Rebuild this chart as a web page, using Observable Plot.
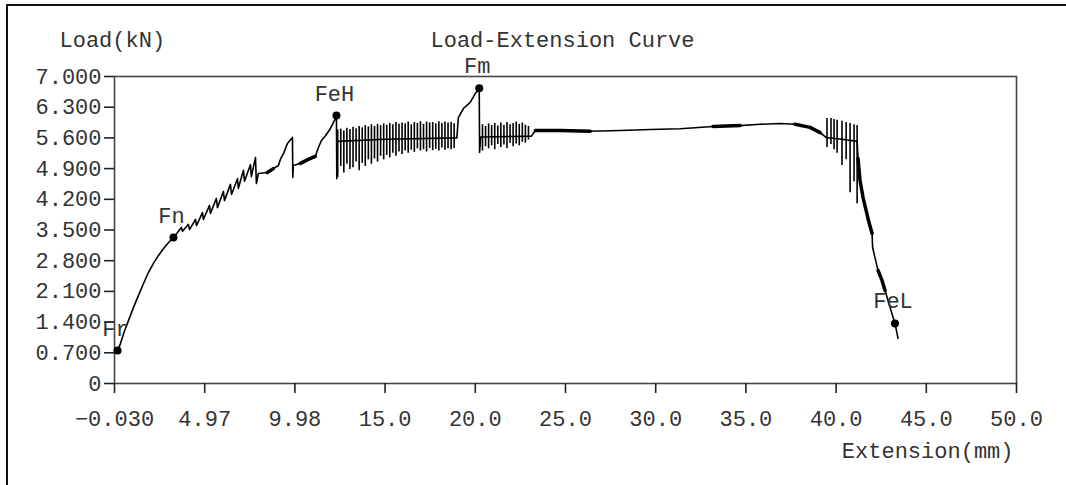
<!DOCTYPE html>
<html>
<head>
<meta charset="utf-8">
<script src="https://cdn.jsdelivr.net/npm/d3@7"></script>
<script src="https://cdn.jsdelivr.net/npm/@observablehq/plot@0.6"></script>
<style>
  html, body { margin: 0; padding: 0; background: #fff; }
  #wrap { position: relative; width: 1066px; height: 485px; overflow: hidden; }
  #outer { position: absolute; left: 6px; top: 4px; right: -10px; bottom: -10px;
           border-top: 2px solid #111; border-left: 2px solid #111; pointer-events: none; }
</style>
</head>
<body>
<div id="wrap"><div id="outer"></div></div>
<script>
// ---- Data ----
const xTickValues = [-0.03, 4.973, 9.976, 14.979, 19.982, 24.985, 29.988, 34.991, 39.994, 44.997, 50.0];
const xTickLabels = ["−0.030", "4.97", "9.98", "15.0", "20.0", "25.0", "30.0", "35.0", "40.0", "45.0", "50.0"];
const yTickValues = [0, 0.7, 1.4, 2.1, 2.8, 3.5, 4.2, 4.9, 5.6, 6.3, 7.0];
const yTickLabels = ["0", "0.700", "1.400", "2.100", "2.800", "3.500", "4.200", "4.900", "5.600", "6.300", "7.000"];

// main load-extension trace (mm, kN)
const extension = [
  0.02, 0.14, 0.30, 0.52, 0.75, 1.02, 1.30, 1.58, 1.85, 2.13, 2.41, 2.69, 2.96, 3.24,
  3.52, 3.68, 3.74, 4.07, 4.13, 4.46, 4.52, 4.85, 4.90, 5.24, 5.29, 5.62, 5.68, 6.01, 6.07,
  6.40, 6.46, 6.79, 6.84, 7.12, 7.18, 7.51, 7.56, 7.79, 7.84, 7.95, 8.45, 8.78, 9.06, 9.17,
  9.34, 9.56, 9.84, 9.86, 9.89, 10.28, 10.72, 11.11, 11.28, 11.45, 11.67, 11.94, 12.22, 12.28,
  12.30, 12.33, 15.00, 18.96, 19.04, 19.32, 19.70, 19.98, 20.15, 20.20, 20.22, 20.28, 23.10,
  23.31, 24.69, 26.36, 28.02, 29.68, 31.35, 33.17, 34.67, 35.78, 36.89, 37.72, 38.55, 39.11,
  39.44, 40.30, 41.16, 41.21, 41.32, 41.49, 41.66, 41.82, 41.99, 42.02, 42.15, 42.32, 42.54,
  42.71, 42.99, 43.26, 43.43
];
const load = [
  0.70, 0.75, 0.91, 1.19, 1.44, 1.73, 2.01, 2.28, 2.53, 2.74, 2.92, 3.08, 3.21, 3.33,
  3.47, 3.56, 3.47, 3.63, 3.51, 3.74, 3.60, 3.90, 3.74, 4.06, 3.88, 4.22, 4.01, 4.38, 4.17,
  4.54, 4.31, 4.67, 4.45, 4.86, 4.61, 4.99, 4.72, 5.15, 4.56, 4.79, 4.81, 4.90, 4.97, 5.11,
  5.24, 5.47, 5.61, 4.70, 4.97, 5.02, 5.11, 5.18, 5.38, 5.54, 5.65, 5.81, 6.04, 6.11,
  4.67, 5.52, 5.57, 5.60, 6.06, 6.27, 6.41, 6.61, 6.70, 6.73, 5.27, 5.62, 5.64,
  5.77, 5.77, 5.75, 5.77, 5.79, 5.81, 5.86, 5.88, 5.91, 5.93, 5.91, 5.84, 5.72,
  5.61, 5.57, 5.52, 5.13, 4.63, 4.24, 3.94, 3.67, 3.42, 3.10, 2.87, 2.58, 2.35,
  2.12, 1.73, 1.37, 1.03
];

// extension ranges where the trace is drawn heavier (dense oscillation)
const heavyFrom = [8.30, 10.25, 23.25, 33.00, 37.50, 41.20, 42.30];
const heavyTo   = [8.90, 11.15, 26.40, 34.80, 39.20, 42.00, 42.75];

// oscillation spikes (vertical excursions)
const spikeX = [
  12.35, 12.52, 12.69, 12.86, 13.03, 13.20, 13.37, 13.54, 13.71, 13.88, 14.05, 14.22, 14.39,
  14.56, 14.73, 14.90, 15.07, 15.24, 15.41, 15.58, 15.75, 15.92, 16.09, 16.26, 16.43, 16.60,
  16.77, 16.94, 17.11, 17.28, 17.45, 17.62, 17.79, 17.96, 18.13, 18.30, 18.47, 18.64, 18.81,
  20.38, 20.55, 20.72, 20.89, 21.06, 21.23, 21.40, 21.57, 21.74, 21.91, 22.08, 22.25, 22.42,
  22.59, 22.76, 22.93,
  39.49, 39.71, 39.88, 40.05, 40.32, 40.55, 40.77, 40.99, 41.16
];
const spikeHigh = [
  5.78, 5.80, 5.76, 5.82, 5.79, 5.84, 5.81, 5.86, 5.83, 5.88, 5.85, 5.90, 5.86,
  5.91, 5.88, 5.92, 5.89, 5.93, 5.90, 5.95, 5.91, 5.94, 5.92, 5.96, 5.90, 5.95,
  5.93, 5.97, 5.91, 5.96, 5.94, 5.95, 5.92, 5.97, 5.93, 5.96, 5.94, 5.95, 5.92,
  5.90, 5.86, 5.92, 5.88, 5.93, 5.87, 5.94, 5.89, 5.95, 5.90, 5.93, 5.96, 5.91,
  5.94, 5.89, 5.86,
  6.04, 6.04, 6.02, 6.00, 5.98, 5.95, 5.93, 5.90, 5.88
];
const spikeLow = [
  4.70, 4.95, 4.80, 5.00, 4.88, 4.92, 5.05, 4.85, 5.02, 4.95, 5.10, 5.00, 5.12,
  5.05, 5.18, 5.10, 5.20, 5.15, 5.25, 5.18, 5.28, 5.22, 5.30, 5.25, 5.32, 5.27,
  5.35, 5.30, 5.33, 5.28, 5.36, 5.31, 5.34, 5.30, 5.37, 5.32, 5.35, 5.33, 5.36,
  5.30, 5.40, 5.35, 5.42, 5.33, 5.45, 5.38, 5.44, 5.36, 5.47, 5.40, 5.46, 5.42,
  5.50, 5.48, 5.55,
  5.38, 5.45, 5.33, 5.25, 4.97, 5.10, 4.35, 4.60, 4.10
];

// characteristic points
const markName = ["Fr", "Fn", "FeH", "Fm", "FeL"];
const markX = [0.14, 3.24, 12.28, 20.20, 43.26];
const markY = [0.75, 3.33, 6.11, 6.73, 1.37];

// ---- Build tables ----
const curve = extension.map((x, i) => ({x, y: load[i]}));
const heavy = [];
heavyFrom.forEach((lo, k) => {
  curve.filter(d => d.x >= lo && d.x <= heavyTo[k]).forEach(d => heavy.push({...d, seg: k}));
});
const spikes = spikeX.map((x, i) => ({x, y1: spikeLow[i], y2: spikeHigh[i]}));
const marks = markName.map((name, i) => ({name, x: markX[i], y: markY[i]}));
const xLab = new Map(xTickValues.map((v, i) => [v, xTickLabels[i]]));
const yLab = new Map(yTickValues.map((v, i) => [v, yTickLabels[i]]));

const font = "Liberation Mono, DejaVu Sans Mono, monospace";
const ink = "#333";

const chart = Plot.plot({
  width: 1066,
  height: 485,
  marginLeft: 114,
  marginRight: 50,
  marginTop: 76,
  marginBottom: 102,
  x: {domain: [-0.03, 50.0]},
  y: {domain: [0, 7]},
  style: {fontFamily: font, fontSize: "22px", color: ink, background: "transparent", overflow: "visible"},
  marks: [
    Plot.frame({stroke: "#444", strokeWidth: 1.6}),
    Plot.axisX({ticks: xTickValues, tickFormat: d => xLab.get(d), tickSize: 10, tickPadding: 17,
                label: null, stroke: "#222", strokeWidth: 1.6, fontSize: 22}),
    Plot.axisY({ticks: yTickValues, tickFormat: d => yLab.get(d), tickSize: 10, tickPadding: 3,
                label: null, stroke: "#222", strokeWidth: 1.6, fontSize: 22}),
    Plot.ruleX(spikes, {x: "x", y1: "y1", y2: "y2", stroke: "#000", strokeWidth: 1.6}),
    Plot.line(curve, {x: "x", y: "y", stroke: "#000", strokeWidth: 1.6}),
    Plot.line(heavy, {x: "x", y: "y", z: "seg", stroke: "#000", strokeWidth: 3.5}),
    Plot.dot(marks, {x: "x", y: "y", r: 4, fill: "#000", stroke: "none"}),
    Plot.text(marks, {x: "x", y: "y", text: "name", dx: -2, dy: -22, fill: ink, fontSize: 22}),
    Plot.text(["Load(kN)"], {text: d => d, frameAnchor: "top-left", textAnchor: "start", lineAnchor: "middle",
                             dx: -55, dy: -37, fill: ink, fontSize: 22}),
    Plot.text(["Load-Extension Curve"], {text: d => d, frameAnchor: "top", textAnchor: "middle", lineAnchor: "middle",
                             dx: -3, dy: -37, fill: ink, fontSize: 22}),
    Plot.text(["Extension(mm)"], {text: d => d, frameAnchor: "bottom-right", textAnchor: "end", lineAnchor: "middle",
                             dx: -3, dy: 67, fill: ink, fontSize: 22})
  ]
});
chart.style.position = "absolute";
chart.style.left = "0px";
chart.style.top = "0px";
document.getElementById("wrap").insertBefore(chart, document.getElementById("outer"));
</script>
</body>
</html>
